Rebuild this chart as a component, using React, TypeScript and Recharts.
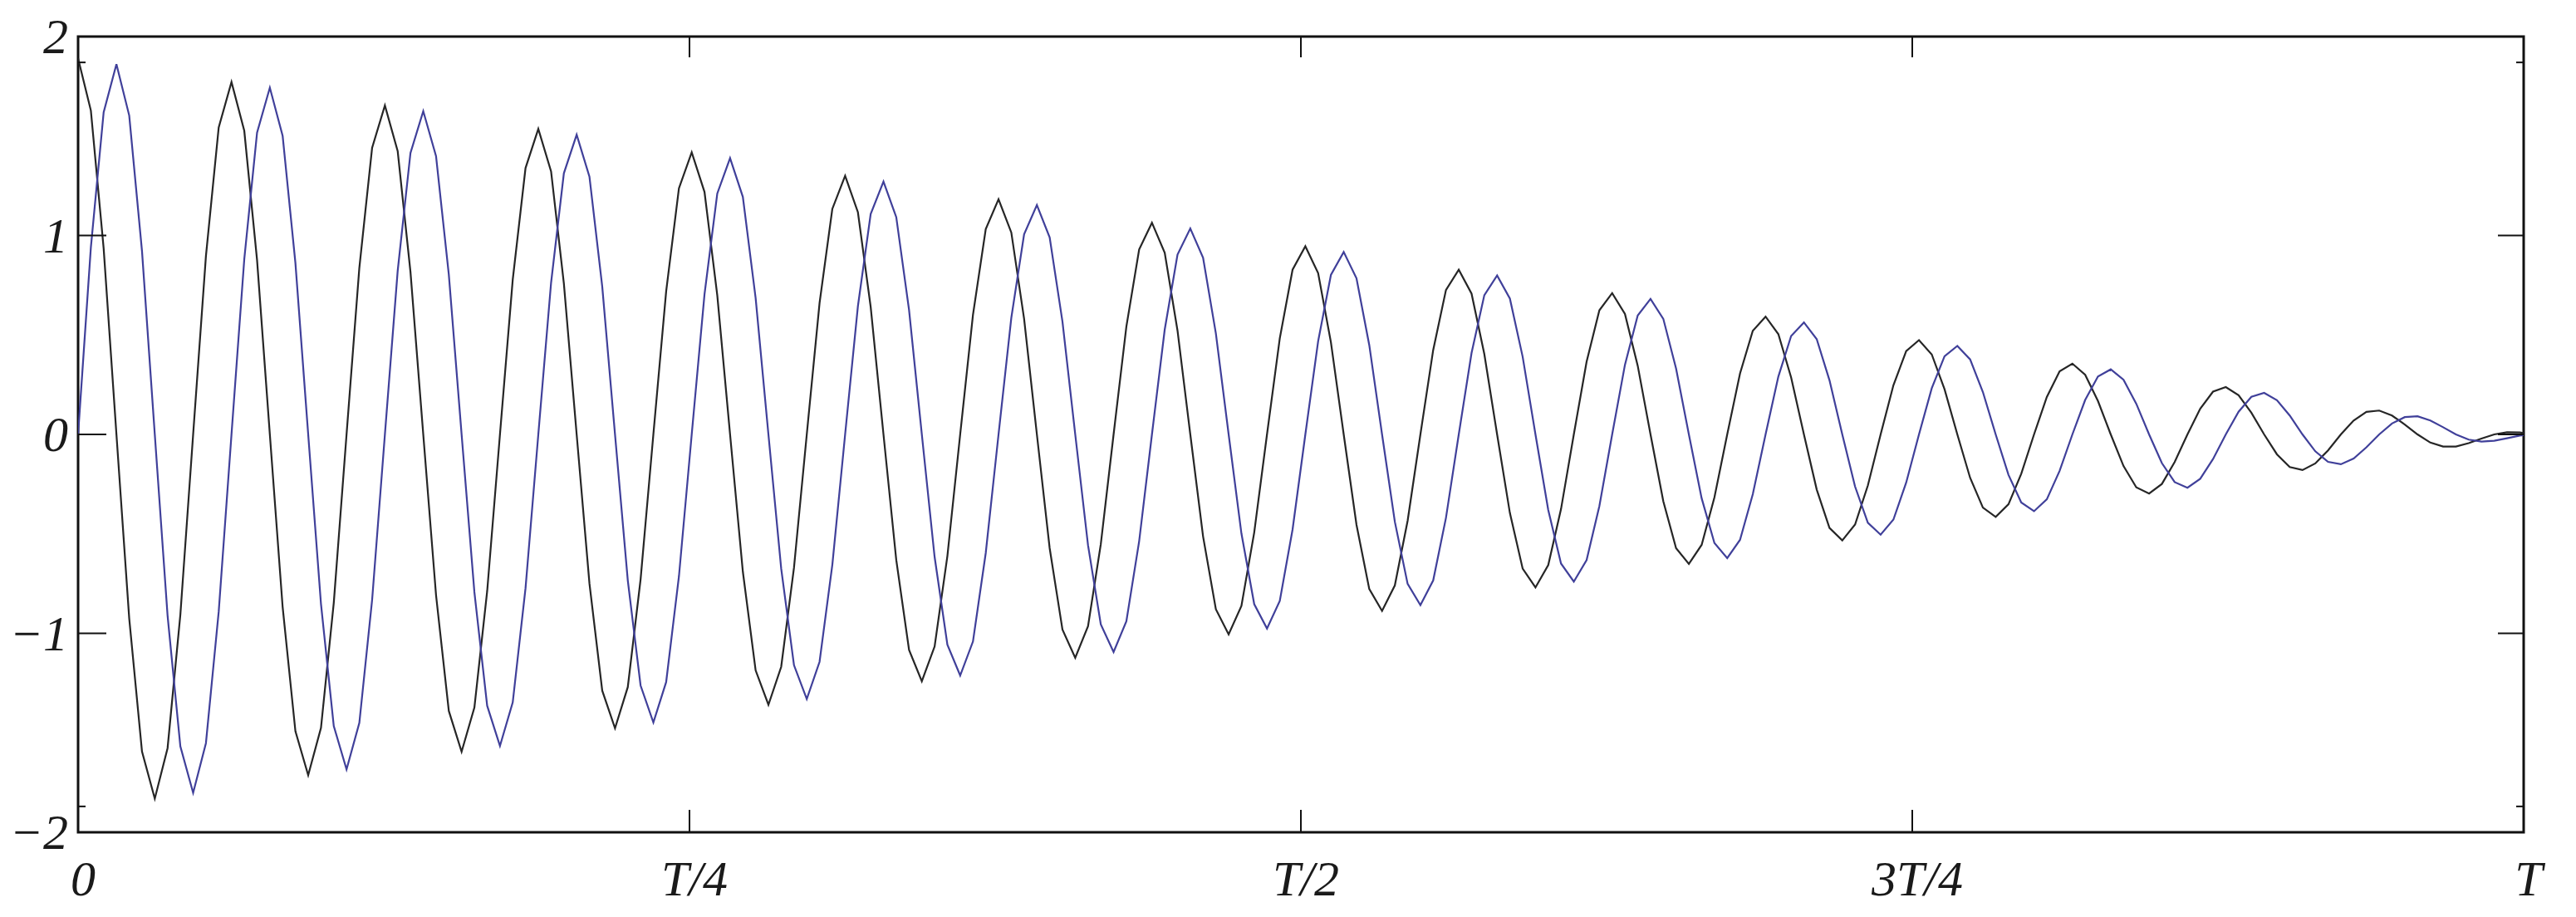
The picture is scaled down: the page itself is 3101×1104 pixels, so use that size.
import React from 'react';
import { LineChart, Line, XAxis, YAxis, ReferenceArea } from 'recharts';

// Black curve values, one per sample (12 samples per oscillation)
const black = [
  1.89, 1.628, 0.935, 0, -0.925, -1.594, -1.831, -1.577, -0.906, 0, 0.896, 1.543,
  1.772, 1.526, 0.876, 0, -0.867, -1.492, -1.713, -1.475, -0.847, 0, 0.837, 1.441,
  1.654, 1.424, 0.817, 0, -0.808, -1.39, -1.595, -1.373, -0.788, 0, 0.778, 1.339,
  1.536, 1.322, 0.758, 0, -0.749, -1.288, -1.477, -1.27, -0.729, 0, 0.719, 1.237,
  1.418, 1.219, 0.699, 0, -0.69, -1.186, -1.359, -1.168, -0.67, 0, 0.66, 1.134,
  1.3, 1.117, 0.64, 0, -0.631, -1.083, -1.241, -1.066, -0.611, 0, 0.601, 1.032,
  1.182, 1.015, 0.581, 0, -0.572, -0.981, -1.123, -0.964, -0.552, 0, 0.542, 0.93,
  1.064, 0.913, 0.522, 0, -0.513, -0.879, -1.005, -0.862, -0.493, 0, 0.483, 0.828,
  0.946, 0.811, 0.463, 0, -0.454, -0.777, -0.887, -0.759, -0.434, 0, 0.424, 0.726,
  0.828, 0.708, 0.404, 0, -0.395, -0.675, -0.769, -0.657, -0.375, 0, 0.365, 0.624,
  0.71, 0.606, 0.345, 0, -0.336, -0.572, -0.651, -0.555, -0.316, 0, 0.306, 0.521,
  0.592, 0.504, 0.286, 0, -0.277, -0.47, -0.533, -0.453, -0.257, 0, 0.247, 0.419,
  0.474, 0.402, 0.227, 0, -0.218, -0.368, -0.415, -0.351, -0.198, 0, 0.188, 0.317,
  0.356, 0.3, 0.168, 0, -0.159, -0.266, -0.297, -0.249, -0.139, 0, 0.129, 0.215,
  0.238, 0.197, 0.109, 0, -0.1, -0.164, -0.179, -0.146, -0.08, 0, 0.07, 0.113,
  0.12, 0.095, 0.05, 0, -0.041, -0.061, -0.061, -0.044, -0.021, 0, 0.011, 0.01,
  0,
];

// Blue curve values, same samples
const blue = [
  0, 0.94, 1.619, 1.861, 1.603, 0.921, 0, -0.911, -1.568, -1.802, -1.552, -0.891,
  0, 0.881, 1.517, 1.743, 1.501, 0.862, 0, -0.852, -1.466, -1.684, -1.45, -0.832,
  0, 0.822, 1.415, 1.625, 1.399, 0.803, 0, -0.793, -1.364, -1.566, -1.347, -0.773,
  0, 0.763, 1.313, 1.507, 1.296, 0.744, 0, -0.734, -1.262, -1.448, -1.245, -0.714,
  0, 0.704, 1.211, 1.389, 1.194, 0.685, 0, -0.675, -1.16, -1.33, -1.143, -0.655,
  0, 0.645, 1.108, 1.271, 1.092, 0.626, 0, -0.616, -1.057, -1.212, -1.041, -0.596,
  0, 0.586, 1.006, 1.153, 0.99, 0.567, 0, -0.557, -0.955, -1.094, -0.939, -0.537,
  0, 0.527, 0.904, 1.035, 0.888, 0.508, 0, -0.498, -0.853, -0.976, -0.837, -0.478,
  0, 0.468, 0.802, 0.917, 0.785, 0.449, 0, -0.439, -0.751, -0.858, -0.734, -0.419,
  0, 0.409, 0.7, 0.799, 0.683, 0.39, 0, -0.38, -0.649, -0.74, -0.632, -0.36,
  0, 0.35, 0.598, 0.681, 0.581, 0.331, 0, -0.321, -0.546, -0.622, -0.53, -0.301,
  0, 0.291, 0.495, 0.563, 0.479, 0.272, 0, -0.262, -0.444, -0.504, -0.428, -0.242,
  0, 0.232, 0.393, 0.445, 0.377, 0.213, 0, -0.203, -0.342, -0.386, -0.326, -0.183,
  0, 0.173, 0.291, 0.327, 0.275, 0.154, 0, -0.144, -0.24, -0.268, -0.223, -0.124,
  0, 0.114, 0.189, 0.209, 0.172, 0.095, 0, -0.085, -0.138, -0.15, -0.121, -0.065,
  0, 0.055, 0.087, 0.091, 0.07, 0.036, 0, -0.026, -0.036, -0.032, -0.019, -0.006,
  0,
];

// Sampling interval in units of T (read from the spacing of the peaks)
const sampleStep = 1 / 191.3;

const xTicks = [0, 0.25, 0.5, 0.75, 1];
const xTickLabels = ['0', 'T/4', 'T/2', '3T/4', 'T'];
const yTicks = [-2, -1.87, -1, 0, 1, 1.87, 2];
const yTickLabels: Record<string, string> = { '-2': '\u22122', '-1': '\u22121', '0': '0', '1': '1', '2': '2' };

const W = 3101;
const H = 1104;
// axis widths of 1px are added to these margins
const M = { top: 44, right: 63, bottom: 101, left: 93 };
const PL = M.left + 1;
const PR = W - M.right;
const PT = M.top;
const PB = H - M.bottom - 1;

const data = black.map((b, i) => ({ t: i * sampleStep, black: b, blue: blue[i] }));

const labelStyle: React.CSSProperties = {
  fontFamily: "'Liberation Serif', 'Times New Roman', serif",
  fontStyle: 'italic',
  fontSize: 60,
};

const XTick = (props: any) => {
  const { x, payload } = props;
  const i = xTicks.indexOf(payload.value);
  return (
    <g>
      <line x1={x} x2={x} y1={PB} y2={PB - 27} stroke="#111" strokeWidth={2} />
      <line x1={x} x2={x} y1={PT} y2={PT + 25} stroke="#111" strokeWidth={2} />
      <text x={x + 6} y={1078} textAnchor="middle" fill="#1a1a1a" style={labelStyle}>
        {xTickLabels[i]}
      </text>
    </g>
  );
};

const YTick = (props: any) => {
  const { y, payload } = props;
  const v = payload.value;
  const label = yTickLabels[String(v)];
  const short = Math.abs(v) === 1.87;
  const edge = Math.abs(v) === 2;
  return (
    <g>
      {!edge && <line x1={PL} x2={PL + (short ? 9 : 34)} y1={y} y2={y} stroke="#111" strokeWidth={2} />}
      {!edge && <line x1={PR - (short ? 9 : 31)} x2={PR} y1={y} y2={y} stroke="#111" strokeWidth={2} />}
      {label && (
        <text x={82} y={y + 20} textAnchor="end" fill="#1a1a1a" style={labelStyle}>
          {label}
        </text>
      )}
    </g>
  );
};

export default function App() {
  return (
    <div style={{ position: 'absolute', left: 0, top: 0, width: W, height: H, background: '#fff' }}>
      <LineChart width={W} height={H} data={data} margin={M}>
        <XAxis
          dataKey="t"
          type="number"
          domain={[0, 1]}
          allowDataOverflow
          ticks={xTicks}
          interval={0}
          height={1}
          axisLine={false}
          tickLine={false}
          tick={XTick}
        />
        <YAxis
          type="number"
          domain={[-2, 2]}
          ticks={yTicks}
          interval={0}
          width={1}
          axisLine={false}
          tickLine={false}
          tick={YTick}
        />
        <ReferenceArea x1={0} x2={1} y1={-2} y2={2} fill="none" fillOpacity={0} stroke="#111" strokeWidth={3} />
        <Line dataKey="black" type="linear" stroke="#262626" strokeWidth={2.2} dot={false} isAnimationActive={false} />
        <Line dataKey="blue" type="linear" stroke="#40409a" strokeWidth={2.2} dot={false} isAnimationActive={false} />
      </LineChart>
    </div>
  );
}
